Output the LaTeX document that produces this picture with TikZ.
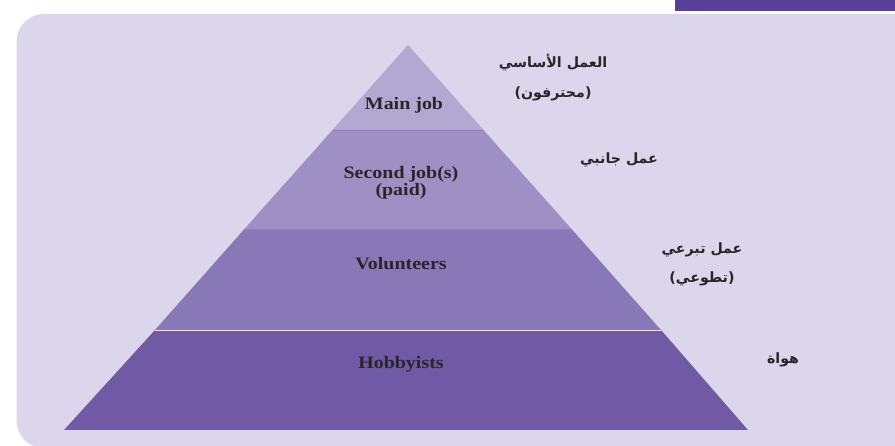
\documentclass[tikz,border=0pt]{standalone}
\usepackage{fontspec}
\setmainfont{Liberation Serif}
\newfontfamily\enfont[FakeStretch=1.14]{Liberation Serif}
\newfontfamily\arabicfont[Script=Arabic]{DejaVu Sans}
\TeXXeTstate=1
\definecolor{panel}{HTML}{DBD6EB}
\definecolor{topbar}{HTML}{5A3F99}
\definecolor{layerA}{HTML}{B2A8D2}
\definecolor{layerB}{HTML}{9E90C5}
\definecolor{layerC}{HTML}{8978B8}
\definecolor{layerD}{HTML}{7059A5}
\definecolor{sepdark}{HTML}{8F7FBC}
\definecolor{inktext}{HTML}{2A2528}
\tikzset{
  x=1pt,y=-1pt,
  entext/.style={font=\fontsize{17.5}{17}\selectfont\enfont\bfseries,text=inktext,align=center,inner sep=0pt},
  artext/.style={font=\fontsize{14.2}{29.5}\selectfont\arabicfont\bfseries,text=inktext,align=center,inner sep=0pt},
  sep/.style={line width=0.9pt}
}
\begin{document}
\begin{tikzpicture}
\useasboundingbox (0,0) rectangle (895,446);
\fill[white] (0,0) rectangle (895,446);
\fill[topbar] (675,0) rectangle (895,11);
\fill[panel,rounded corners=27.5pt] (16.5,14) rectangle (935,448);
\fill[layerA] (408,45) -- (483.5,130) -- (332.5,130) -- cycle;
\fill[layerB] (332.5,130) -- (483.5,130) -- (572,229.5) -- (244,229.5) -- cycle;
\fill[layerC] (244,229.5) -- (572,229.5) -- (661,330) -- (155,330) -- cycle;
\fill[layerD] (155,330) -- (661,330) -- (748,430) -- (64,430) -- cycle;
\draw[sep,sepdark] (332.5,130) -- (483.5,130);
\draw[sep,sepdark] (244,229.5) -- (572,229.5);
\draw[sep,white!50!panel] (155,330.5) -- (661,330.5);
\node[entext] (mainjob) at (404,105) {Main job};
\node[entext] (second) at (401,183) {Second job(s)\\(paid)};
\node[entext] (volunteers) at (401,264) {Volunteers};
\node[entext] (hobby) at (401,364) {Hobbyists};
\node[artext] (armain) at (553,77.5) {\beginR العمل الأساسي\endR\\\beginR (محترفون)\endR};
\node[artext] (arside) at (619,160) {\beginR عمل جانبي\endR};
\node[artext] (arvol) at (702,264.5) {\beginR عمل تبرعي\endR\\\beginR (تطوعي)\endR};
\node[artext] (arhobby) at (783,360) {\beginR هواة\endR};
\end{tikzpicture}
\end{document}
